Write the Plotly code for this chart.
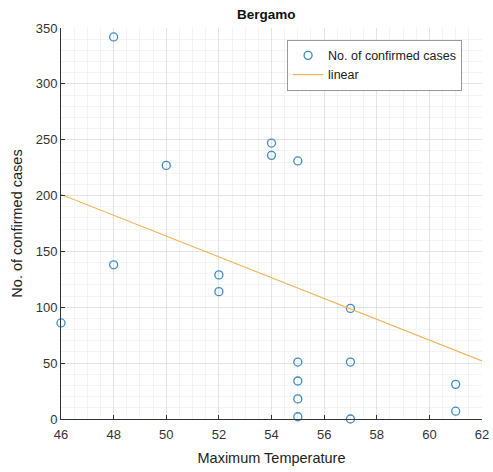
import plotly.graph_objects as go

temp = [46, 48, 48, 50, 52, 52, 54, 54, 55, 55, 55, 55, 55, 57, 57, 57, 61, 61]
cases = [86, 342, 138, 227, 129, 114, 247, 236, 231, 51, 34, 18, 2, 99, 51, 0, 31, 7]
linear_x = [46, 62]
linear_y = [201, 52]
x_ticks = [46, 48, 50, 52, 54, 56, 58, 60, 62]
y_ticks = [0, 50, 100, 150, 200, 250, 300, 350]

FONT = "Liberation Sans, Arial, sans-serif"

fig = go.Figure()
fig.add_trace(go.Scatter(
    x=temp, y=cases, mode="markers", name="No. of confirmed cases",
    marker=dict(symbol="circle-open", size=8, color="#3d8cc4", line=dict(width=1.3)),
    cliponaxis=False))
fig.add_trace(go.Scatter(
    x=linear_x, y=linear_y, mode="lines", name="linear",
    line=dict(color="#f0b45a", width=1.2)))

axis_common = dict(
    showline=True, linecolor="#333333", linewidth=1, mirror=False,
    ticks="inside", ticklen=4, tickcolor="#333333",
    showgrid=True, gridcolor="#e3e3e3", gridwidth=1,
    zeroline=False, automargin=False,
    tickfont=dict(family=FONT, size=13, color="#333333"),
    title_font=dict(family=FONT, size=14.5, color="#222222"),
)

fig.update_layout(
    width=493, height=472,
    margin=dict(l=61, r=11, t=28, b=53),
    paper_bgcolor="white", plot_bgcolor="white",
    title=dict(text="<b>Bergamo</b>", x=0.54, xanchor="center", y=0.98, yanchor="top",
               font=dict(family=FONT, size=13.5, color="#111111")),
    xaxis=dict(range=[46, 62], tickvals=x_ticks, title=dict(text="Maximum Temperature", standoff=12),
               ticklabelstandoff=3,
               minor=dict(showgrid=True, gridcolor="#f3f3f3", dtick=0.5), **axis_common),
    yaxis=dict(range=[0, 350], tickvals=y_ticks, title=dict(text="No. of confirmed cases", standoff=9),
               minor=dict(showgrid=True, gridcolor="#f3f3f3", dtick=10), **axis_common),
    legend=dict(x=0.537, y=0.97, xanchor="left", yanchor="top",
                bgcolor="white", bordercolor="#999999", borderwidth=1,
                font=dict(family=FONT, size=12.5, color="#222222"),
                tracegroupgap=0, itemwidth=30),
    showlegend=True,
)

fig.write_html("out.html")
